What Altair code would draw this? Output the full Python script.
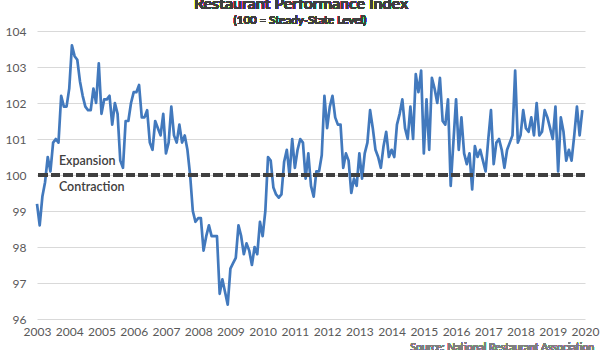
import altair as alt
import pandas as pd

start_year = 2003
rpi = [
    # 2003
    99.2, 98.6, 99.4, 99.8, 100.5, 100.1, 100.9, 101.0, 100.9, 102.2, 101.9, 101.9,
    # 2004
    102.4, 103.6, 103.3, 103.2, 102.6, 102.2, 101.9, 101.8, 101.8, 102.4, 102.0, 103.1,
    # 2005
    101.7, 102.1, 102.1, 102.2, 101.4, 102.0, 101.7, 100.4, 100.2, 101.5, 101.5, 102.0,
    # 2006
    102.3, 102.3, 102.5, 101.6, 101.6, 101.8, 100.9, 100.7, 101.5, 101.3, 101.1, 101.7,
    # 2007
    100.6, 100.9, 101.9, 101.1, 100.9, 101.4, 100.9, 101.1, 100.7, 100.0, 99.0, 98.7,
    # 2008
    98.8, 98.8, 97.9, 98.3, 98.6, 98.3, 98.3, 98.3, 96.7, 97.1, 96.75, 96.4,
    # 2009
    97.4, 97.55, 97.7, 98.6, 98.3, 97.8, 98.1, 97.9, 97.5, 98.0, 97.8, 98.7,
    # 2010
    98.3, 99.0, 100.5, 100.4, 99.65, 99.46, 99.37, 99.46, 100.37, 100.7, 100.0, 101.0,
    # 2011
    100.2, 100.7, 101.0, 100.9, 99.9, 100.6, 99.7, 99.4, 100.1, 100.1, 100.55, 102.2,
    # 2012
    101.3, 101.9, 102.2, 101.6, 101.4, 101.4, 100.2, 100.6, 100.4, 99.5, 99.9, 99.7,
    # 2013
    100.6, 99.9, 100.6, 100.9, 101.8, 101.3, 100.7, 100.5, 100.2, 100.8, 101.2, 100.5,
    # 2014
    100.7, 100.5, 101.4, 101.7, 102.1, 101.3, 101.0, 101.9, 101.0, 102.8, 102.3, 102.9,
    # 2015
    100.6, 102.1, 100.7, 102.7, 102.4, 102.0, 102.7, 101.5, 101.4, 102.1, 99.7, 100.9,
    # 2016
    102.1, 100.7, 101.6, 100.6, 100.3, 100.6, 99.6, 100.8, 100.5, 100.7, 100.4, 100.1,
    # 2017
    101.0, 101.8, 100.3, 100.9, 101.0, 100.7, 100.2, 100.7, 100.9, 101.1, 102.9, 100.9,
    # 2018
    101.1, 101.8, 101.3, 101.2, 101.6, 101.1, 102.0, 101.1, 101.2, 101.8, 101.6, 101.3,
    # 2019
    101.0, 101.9, 100.1, 101.6, 101.2, 100.4, 100.7, 100.4, 101.1, 101.9, 101.1, 101.8,
]
year_ticks = list(range(2003, 2021))
y_ticks = list(range(96, 105))
steady_state = 100
zone_labels = ["Expansion", "Contraction"]
zone_label_x = [2003.68, 2003.68]
zone_label_y = [100.4, 99.68]
title_text = "Restaurant Performance Index"
subtitle_text = "(100 = Steady-State Level)"
source_text = "Source: National Restaurant Association"

FONT = "Lato"
W, H = 548, 288

df = pd.DataFrame({
    "t": [start_year + i / 12 for i in range(len(rpi))],
    "rpi": rpi,
})
zones = pd.DataFrame({"label": zone_labels, "x": zone_label_x, "y": zone_label_y})

xscale = alt.Scale(domain=[2003, 2020], nice=False, zero=False)
yscale = alt.Scale(domain=[96, 104], nice=False, zero=False)
xaxis = alt.Axis(values=year_ticks, format="d", labelFlush=False, labelOverlap=False,
                 grid=False, ticks=False, domain=False, labelColor="#595959",
                 labelFont=FONT, labelFontSize=12, labelPadding=7, title=None)
yaxis = alt.Axis(values=y_ticks, grid=True, gridColor="#d9d9d9", gridWidth=1,
                 labelOverlap=False, ticks=False, domain=False, labelColor="#595959",
                 labelFont=FONT, labelFontSize=12, labelPadding=11, title=None)

line = alt.Chart(df).mark_line(color="#4279BD", strokeWidth=2.7, strokeJoin="round").encode(
    x=alt.X("t:Q", scale=xscale, axis=xaxis),
    y=alt.Y("rpi:Q", scale=yscale, axis=yaxis),
)

rule = alt.Chart(df).mark_rule(color="#404040", strokeWidth=3, strokeDash=[9, 3.5]).encode(
    y=alt.Y(datum=steady_state, scale=yscale, axis=yaxis)
)

zone_text = alt.Chart(zones).mark_text(
    align="left", baseline="middle", font=FONT, fontSize=12.5, fontWeight=600, color="#404040"
).encode(
    x=alt.X("x:Q", scale=xscale, axis=xaxis),
    y=alt.Y("y:Q", scale=yscale, axis=yaxis),
    text="label:N",
)

title = alt.Chart(df).mark_text(
    align="center", baseline="alphabetic", font=FONT, fontSize=16, fontWeight=600, color="#404040"
).encode(x=alt.value(264), y=alt.value(-22), text=alt.value(title_text))

subtitle = alt.Chart(df).mark_text(
    align="center", baseline="middle", font=FONT, fontSize=11.5, fontWeight=600, color="#404040"
).encode(x=alt.value(263), y=alt.value(-10), text=alt.value(subtitle_text))

source = alt.Chart(df).mark_text(
    align="right", baseline="middle", font=FONT, fontSize=10.5, color="#7f7f7f"
).encode(x=alt.value(557), y=alt.value(317), text=alt.value(source_text))

chart = alt.layer(line, rule, zone_text, title, subtitle, source).properties(
    width=W, height=H,
    background="white",
    autosize=alt.AutoSizeParams(type="none"),
    padding={"left": 37, "top": 31, "right": 15, "bottom": 31},
).configure_view(stroke=None)

chart.save("out.html", embed_options={"renderer": "svg", "actions": False})
